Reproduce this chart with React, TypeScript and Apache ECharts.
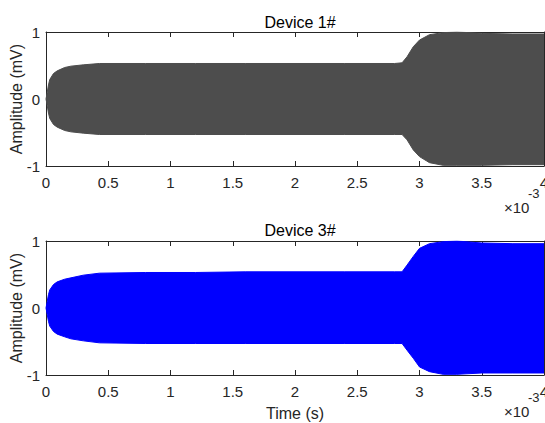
import React, { useEffect, useRef } from "react";
import * as echarts from "echarts";

// Time in ms (axis shown ×10^-3 s)
const time1 = [0, 0.01, 0.02, 0.03, 0.06, 0.09, 0.15, 0.2, 0.3, 0.43, 0.8, 1.2, 1.6, 2.0, 2.4, 2.8, 2.86, 2.9, 2.95, 3.0, 3.08, 3.19, 3.3, 3.5, 3.75, 4.0];
const upper1 = [0, 0.1, 0.21, 0.29, 0.38, 0.42, 0.47, 0.49, 0.51, 0.53, 0.53, 0.53, 0.53, 0.53, 0.53, 0.53, 0.54, 0.63, 0.78, 0.88, 0.96, 0.99, 1.0, 0.98, 0.97, 0.97];
const lower1 = [0, -0.1, -0.21, -0.29, -0.38, -0.42, -0.47, -0.49, -0.51, -0.53, -0.53, -0.53, -0.53, -0.53, -0.53, -0.53, -0.53, -0.61, -0.76, -0.86, -0.95, -0.99, -0.99, -0.99, -0.98, -0.98];

const time3 = [0, 0.01, 0.02, 0.03, 0.06, 0.09, 0.15, 0.2, 0.3, 0.43, 0.8, 1.2, 1.6, 2.0, 2.4, 2.8, 2.86, 2.9, 2.95, 3.0, 3.08, 3.19, 3.3, 3.5, 3.75, 4.0];
const upper3 = [0, 0.1, 0.2, 0.27, 0.35, 0.39, 0.43, 0.45, 0.49, 0.52, 0.53, 0.53, 0.54, 0.54, 0.54, 0.54, 0.54, 0.64, 0.77, 0.89, 0.96, 0.99, 1.0, 0.97, 0.96, 0.96];
const lower3 = [0, -0.1, -0.2, -0.27, -0.35, -0.39, -0.43, -0.46, -0.49, -0.52, -0.53, -0.53, -0.53, -0.53, -0.53, -0.53, -0.53, -0.63, -0.75, -0.88, -0.95, -0.99, -0.99, -0.97, -0.97, -0.97];

const titles = ["Device 1#", "Device 3#"];
const xTicks = { min: 0, max: 4, interval: 0.5 };
const yTicks = { min: -1, max: 1, interval: 1 };

const FONT = "'Liberation Sans', Arial, Helvetica, sans-serif";
const INK = "#262626";
const colors = ["#4d4d4d", "#0000ff"];

export default function App() {
  const ref = useRef<HTMLDivElement>(null);
  useEffect(() => {
    document.body.style.margin = "0";
    const chart = echarts.init(ref.current!, null, { renderer: "svg" });
    const grids = [
      { left: 46, top: 32, width: 498, height: 134, containLabel: false, outerBoundsMode: "none" },
      { left: 46, top: 241, width: 498, height: 134, containLabel: false, outerBoundsMode: "none" },
    ];
    const xAxes: any[] = [];
    const yAxes: any[] = [];
    grids.forEach((_, gi) => {
      const common = {
        type: "value",
        gridIndex: gi,
        axisLine: { show: true, onZero: false, lineStyle: { color: INK, width: 1 } },
        axisTick: { show: true, inside: true, length: 5, lineStyle: { color: INK } },
        splitLine: { show: false },
      };
      xAxes.push({
        ...common,
        position: "bottom",
        ...xTicks,
        axisLabel: { show: true, color: INK, fontFamily: FONT, fontSize: 15, margin: 9 },
        name: gi === 1 ? "Time (s)" : "",
        nameLocation: "middle",
        nameGap: 30,
        nameMoveOverlap: false,
        nameTextStyle: { color: INK, fontFamily: FONT, fontSize: 16 },
      });
      xAxes.push({ ...common, position: "top", ...xTicks, axisLabel: { show: false } });
      yAxes.push({
        ...common,
        position: "left",
        ...yTicks,
        axisLabel: { show: true, color: INK, fontFamily: FONT, fontSize: 15, margin: 6 },
        name: "Amplitude (mV)",
        nameLocation: "middle",
        nameGap: 22,
        nameMoveOverlap: false,
        nameTextStyle: { color: INK, fontFamily: FONT, fontSize: 16 },
      });
      yAxes.push({ ...common, position: "right", ...yTicks, axisLabel: { show: false } });
    });

    const pairs = (t: number[], v: number[]) => t.map((x, i) => [x, v[i]]);
    const mk = (gi: number, data: number[][]) => ({
      type: "line",
      xAxisIndex: gi * 2,
      yAxisIndex: gi * 2,
      data,
      showSymbol: false,
      symbol: "none",
      lineStyle: { color: colors[gi], width: 1 },
      itemStyle: { color: colors[gi] },
      areaStyle: { color: colors[gi], opacity: 1 },
      z: 1,
    });

    const exps = [
      { base: 200, exp: 187 },
      { base: 404, exp: 391 },
    ];
    const graphic: any[] = [];
    exps.forEach((e) => {
      graphic.push({
        type: "text",
        x: 504,
        y: e.base,
        style: { text: "×10", fontFamily: FONT, fontSize: 15, fill: INK },
      });
      graphic.push({
        type: "text",
        x: 528,
        y: e.exp,
        style: { text: "-3", fontFamily: FONT, fontSize: 13, fill: INK },
      });
    });

    chart.setOption({
      animation: false,
      backgroundColor: "#ffffff",
      title: titles.map((t, i) => ({
        text: t,
        left: 295,
        textAlign: "center",
        top: i === 0 ? 9 : 217,
        textStyle: { color: "#000", fontFamily: FONT, fontSize: 16, fontWeight: "normal" },
      })),
      grid: grids,
      xAxis: xAxes,
      yAxis: yAxes,
      series: [
        mk(0, pairs(time1, upper1)),
        mk(0, pairs(time1, lower1)),
        mk(1, pairs(time3, upper3)),
        mk(1, pairs(time3, lower3)),
      ],
      graphic,
    });
    return () => chart.dispose();
  }, []);
  return <div ref={ref} style={{ width: 545, height: 423 }} />;
}
